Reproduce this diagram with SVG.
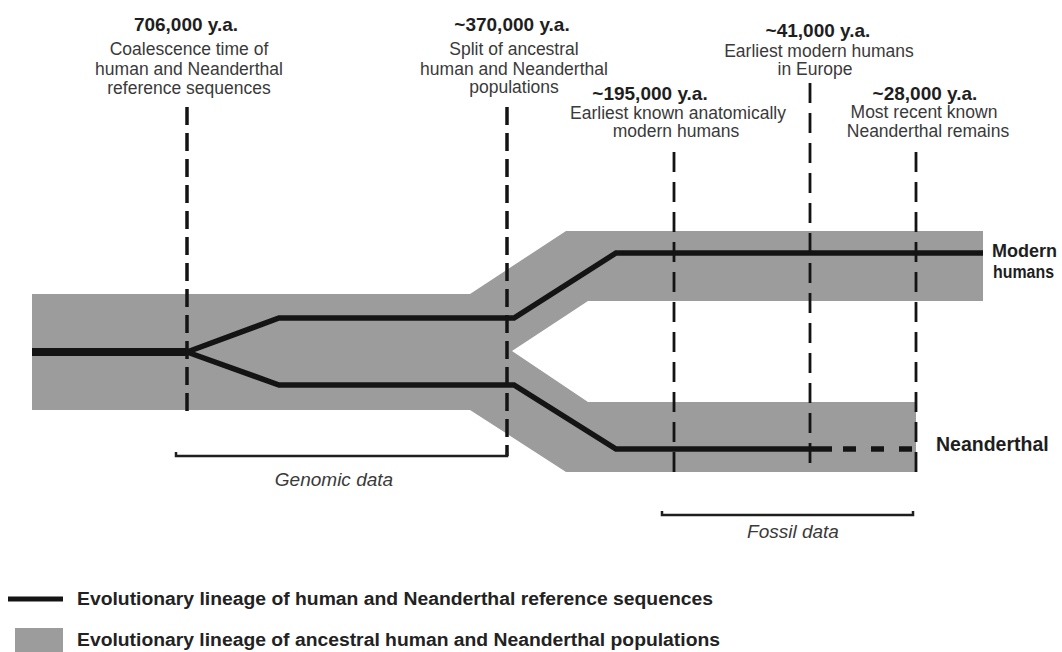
<svg xmlns="http://www.w3.org/2000/svg" width="1062" height="652" viewBox="0 0 1062 652">
<style>
.hd{font-family:"Liberation Sans",Arial,sans-serif;font-weight:bold;font-size:19px;fill:#1e1e1e;text-anchor:middle}
.bd{font-family:"Liberation Sans",Arial,sans-serif;font-size:17.5px;fill:#3a3a3a;text-anchor:middle}
.lb{font-family:"Liberation Sans",Arial,sans-serif;font-weight:bold;font-size:19.5px;fill:#1e1e1e}
.it{font-family:"Liberation Sans",Arial,sans-serif;font-style:italic;font-size:19px;fill:#3a3a3a;text-anchor:middle}
.lg{font-family:"Liberation Sans",Arial,sans-serif;font-weight:bold;font-size:17.5px;fill:#222}
.band{fill:#9c9c9c}
.seq{fill:none;stroke:#141414;stroke-width:5.5;stroke-linejoin:miter}
.dA{stroke:#141414;stroke-width:3.5;stroke-dasharray:18 8}
.dB{stroke:#141414;stroke-width:2.8;stroke-dasharray:20 10}
.br{fill:none;stroke:#1e1e1e;stroke-width:2.5}
</style>
<g id="populations">
<polygon class="band" points="32,294 470,294 566,231 983,231 983,301 588,301 512,351 588,402 916,402 916,472 566,472 470,410 32,410"/>
</g>
<g id="connectors">
<line x1="32" y1="352" x2="188" y2="352" stroke="#141414" stroke-width="8"/>
<polyline class="seq" points="187,352 279,318 514,318 616,253 983,253"/>
<polyline class="seq" points="187,352 279,385 514,385 616,449 832,449"/>
<line x1="843" y1="449" x2="916" y2="449" stroke="#141414" stroke-width="5.5" stroke-dasharray="13 15"/>
<line class="dA" x1="187" y1="107" x2="187" y2="412"/>
<line class="dA" x1="507" y1="107" x2="507" y2="456"/>
<line class="dB" x1="674" y1="152" x2="674" y2="473"/>
<line class="dB" x1="810" y1="83" x2="810" y2="473"/>
<line class="dB" x1="916" y1="152" x2="916" y2="473"/>
<polyline class="br" points="176,452 176,456 507,456 507,452"/>
<polyline class="br" points="662,511 662,515 913,515 913,511"/>
</g>
<g id="t706">
<text class="hd" x="186" y="31">706,000 y.a.</text>
<text class="bd" x="189" y="55">Coalescence time of</text>
<text class="bd" x="189" y="75">human and Neanderthal</text>
<text class="bd" x="189" y="94">reference sequences</text>
</g>
<g id="t370">
<text class="hd" x="512" y="31">~370,000 y.a.</text>
<text class="bd" x="514" y="55">Split of ancestral</text>
<text class="bd" x="514" y="75">human and Neanderthal</text>
<text class="bd" x="514" y="93">populations</text>
</g>
<g id="t41">
<text class="hd" x="818" y="37">~41,000 y.a.</text>
<text class="bd" x="819" y="57">Earliest modern humans</text>
<text class="bd" x="815" y="75">in Europe</text>
</g>
<g id="t195">
<text class="hd" x="650" y="100">~195,000 y.a.</text>
<text class="bd" x="678" y="119">Earliest known anatomically</text>
<text class="bd" x="676" y="137">modern humans</text>
</g>
<g id="t28">
<text class="hd" x="925" y="100">~28,000 y.a.</text>
<text class="bd" x="924" y="118">Most recent known</text>
<text class="bd" x="928" y="137">Neanderthal remains</text>
</g>
<g id="modern">
<text class="lb" x="992" y="257" style="font-size:18px">Modern</text>
<text class="lb" x="993" y="278" style="font-size:18px" textLength="61" lengthAdjust="spacingAndGlyphs">humans</text>
</g>
<g id="neanderthal">
<text class="lb" x="936" y="451">Neanderthal</text>
</g>
<g id="genomic">
<text class="it" x="334" y="486">Genomic data</text>
</g>
<g id="fossil">
<text class="it" x="793" y="538">Fossil data</text>
</g>
<g id="legend">
<line x1="8" y1="599" x2="63" y2="599" stroke="#141414" stroke-width="5"/>
<text class="lg" x="77" y="605" textLength="636" lengthAdjust="spacingAndGlyphs">Evolutionary lineage of human and Neanderthal reference sequences</text>
<rect x="15" y="628" width="48" height="30" fill="#9c9c9c"/>
<text class="lg" x="77" y="646" textLength="643" lengthAdjust="spacingAndGlyphs">Evolutionary lineage of ancestral human and Neanderthal populations</text>
</g>
</svg>
